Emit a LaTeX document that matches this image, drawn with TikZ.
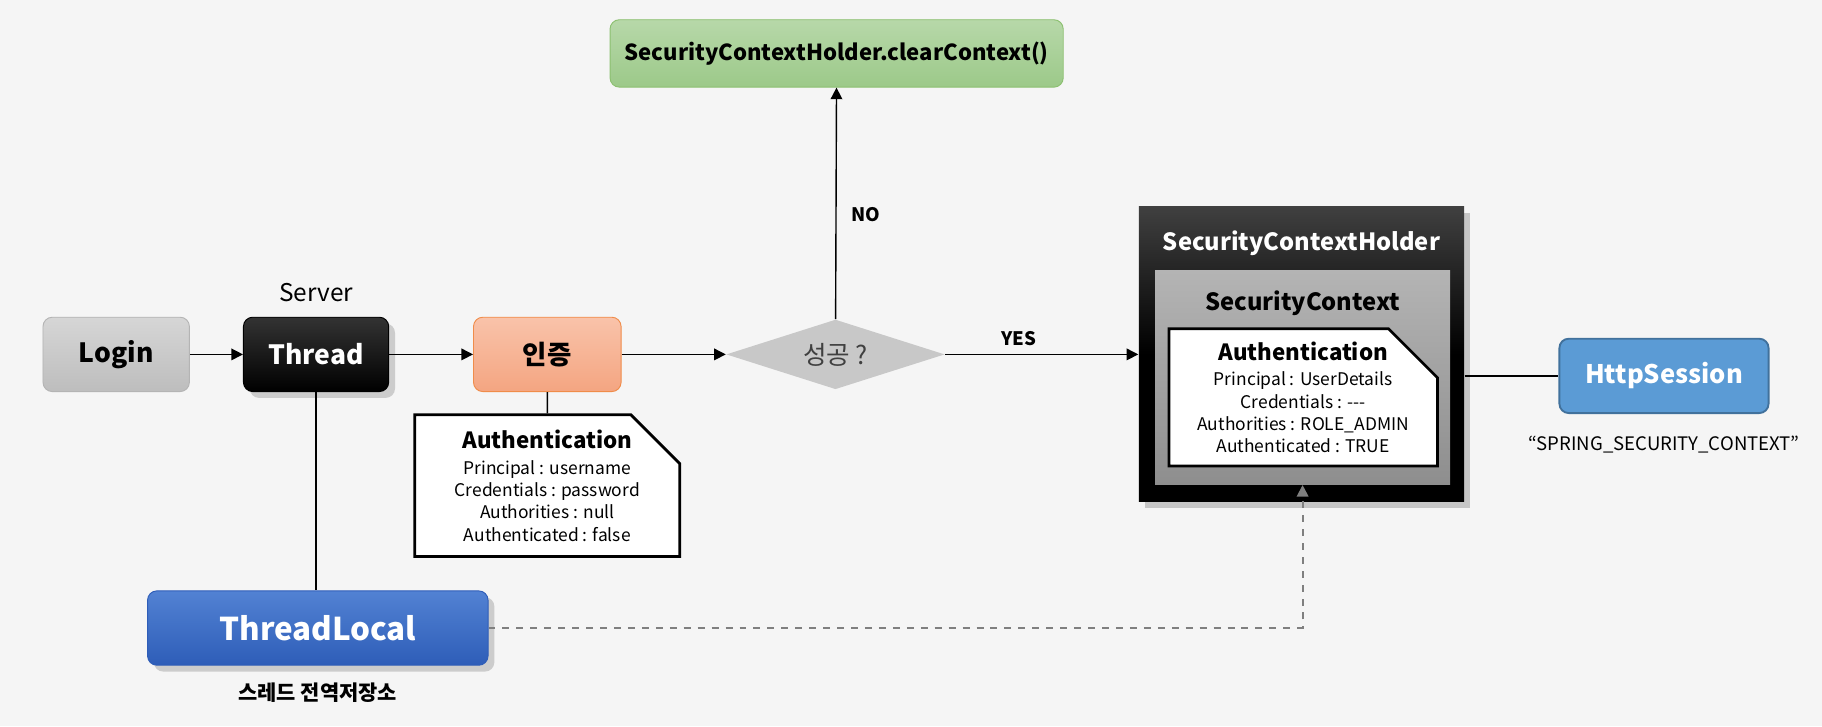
\documentclass[tikz,border=0pt]{standalone}
\usepackage{fontspec}
\setmainfont{Noto Sans CJK KR}
\usetikzlibrary{positioning,shapes.geometric,shapes.misc,shadows,arrows.meta}
\definecolor{bgc}{HTML}{F5F5F5}
\definecolor{logtop}{HTML}{D6D6D6}
\definecolor{logbot}{HTML}{BDBDBD}
\definecolor{logline}{HTML}{B4B4B4}
\definecolor{authtop}{HTML}{F9C3AA}
\definecolor{authbot}{HTML}{F4A581}
\definecolor{authline}{HTML}{F08C4A}
\definecolor{condc}{HTML}{C8C8C8}
\definecolor{cleartop}{HTML}{B7D8A9}
\definecolor{clearbot}{HTML}{9CC989}
\definecolor{clearline}{HTML}{8CC070}
\definecolor{httpc}{HTML}{5B9BD5}
\definecolor{httpline}{HTML}{41719C}
\definecolor{tltop}{HTML}{5282D3}
\definecolor{tlbot}{HTML}{2E5DB8}
\definecolor{sctop}{HTML}{B4B4B4}
\definecolor{scbot}{HTML}{8E8E8E}
\definecolor{dashc}{HTML}{7F7F7F}
\newcommand{\memohead}[1]{{\bfseries\fontsize{9.6}{11}\selectfont #1}}

\begin{document}
\begin{tikzpicture}[x=0.5pt, y=-0.5pt, >={Triangle[length=5pt,width=5pt]},
  blk/.style={rounded corners=4pt, minimum height=32pt, inner sep=0pt,
    font=\bfseries\fontsize{11.4}{14}\selectfont},
  memo/.style={chamfered rectangle, chamfered rectangle corners=north east,
    chamfered rectangle xsep=10.5pt, chamfered rectangle ysep=10.5pt,
    draw=black, line width=1.2pt, fill=white, align=center, inner xsep=0pt,
    font=\fontsize{7.5}{9.6}\selectfont},
  lbl/.style={font=\bfseries\fontsize{8}{10}\selectfont}]
\fill[bgc] (0,0) rectangle (1568,625);
\useasboundingbox (0,0) rectangle (1568,625);
%
\node[blk, minimum width=63pt, top color=logtop, bottom color=logbot, draw=logline]
  (login) at (100,305) {Login};
\node[blk, minimum width=62.5pt, top color=black!80, bottom color=black, draw=black,
  text=white, drop shadow={opacity=0.35}] (thread) at (272,305) {Thread};
\node[above=3pt of thread, font=\fontsize{10.5}{12}\selectfont] (server) {Server};
\node[blk, minimum width=63.5pt, top color=authtop, bottom color=authbot, draw=authline]
  (auth) at (471,305) {인증};
\node[diamond, aspect=3.1, minimum width=94pt, minimum height=30pt, inner sep=0pt,
  fill=condc, font=\fontsize{11}{13}\selectfont, text=black!75]
  (cond) at (719,305) {성공 ?};
\node[blk, minimum width=195pt, minimum height=29pt, top color=cleartop,
  bottom color=clearbot, draw=clearline, font=\bfseries\fontsize{9.5}{12}\selectfont]
  (clear) at (720,46) {SecurityContextHolder.clearContext()};
%
\node[memo, minimum width=114pt, minimum height=61pt, inner ysep=-5pt] (note1) at (471,418)
  {\memohead{Authentication}\\[1.5pt]Principal : username\\Credentials : password\\
   Authorities : null\\Authenticated : false};
%
\node[blk, minimum width=146.5pt, top color=tltop, bottom color=tlbot, draw=tlbot,
  text=white, drop shadow={opacity=0.35}, font=\bfseries\fontsize{13.5}{16}\selectfont]
  (tl) at (273.5,540.5) {ThreadLocal};
\node[below=4pt of tl, font=\bfseries\fontsize{9}{11}\selectfont] (tlnote) {스레드 전역저장소};
%
\node[minimum width=140pt, minimum height=127pt, inner sep=0pt, top color=black!75,
  bottom color=black, middle color=black, drop shadow={opacity=0.4}]
  (sch) at (1120,305) {};
\node[below=7pt of sch.north, text=white, font=\bfseries\fontsize{10.2}{13}\selectfont]
  (schtitle) {SecurityContextHolder};
\node[minimum width=127pt, minimum height=92pt, inner sep=0pt, top color=sctop,
  bottom color=scbot] (sc) at (1121,325) {};
\node[below=5.5pt of sc.north, font=\bfseries\fontsize{10.2}{13}\selectfont]
  (sctitle) {SecurityContext};
\node[memo, minimum width=115.5pt, minimum height=59pt, inner ysep=-6pt] (note2) at (1121.5,342)
  {\memohead{Authentication}\\[1.5pt]Principal : UserDetails\\Credentials : -{}-{}-\\
   Authorities : ROLE\_ADMIN\\Authenticated : TRUE};
%
\node[blk, minimum width=90pt, fill=httpc, draw=httpline, line width=0.8pt, text=white,
  font=\bfseries\fontsize{11}{14}\selectfont]
  (http) at (1432,323.5) {HttpSession};
\node[below=6pt of http, font=\fontsize{8}{10}\selectfont] (httpkey)
  {“SPRING\_SECURITY\_CONTEXT”};
%
\path[->, line width=0.6pt]
  (login) edge (thread)
  (thread) edge (auth)
  (auth) edge (cond)
  (cond) edge node[lbl, above, pos=0.38] {YES} (sch)
  (cond) edge node[lbl, right=3pt, pos=0.45] {NO} (clear);
\path[line width=0.6pt]
  (thread) edge (thread|-tl.north)
  (auth) edge (note1)
  (sch.east|-http) edge (http);
\draw[->, dashed, dashc, line width=0.8pt] (tl) -| (sc);
\end{tikzpicture}
\end{document}
